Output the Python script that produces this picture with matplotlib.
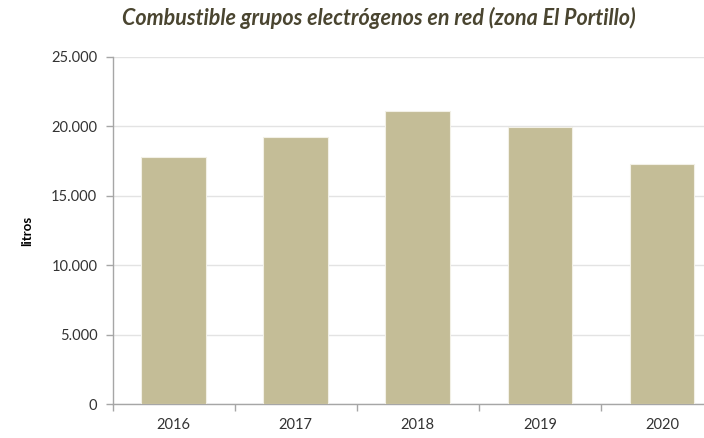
import matplotlib
matplotlib.use("Agg")
import matplotlib.pyplot as plt
from matplotlib.ticker import FuncFormatter, FixedLocator

years = ["2016", "2017", "2018", "2019", "2020"]
litros = [17800, 19200, 21100, 19950, 17250]
y_ticks = [0, 5000, 10000, 15000, 20000, 25000]

title = "Combustible grupos electrógenos en red (zona El Portillo)"
ylabel = "litros"

plt.rcParams["font.family"] = ["Lato", "DejaVu Sans"]

fig = plt.figure(figsize=(7.04, 4.38), dpi=100)
ax = fig.add_axes([0.160, 0.077, 0.867, 0.7936])

x = list(range(len(years)))
ax.bar(x, litros, width=0.53, color="#C4BD97", edgecolor="#F2F0E6", linewidth=0.8, zorder=3)

ax.set_xlim(-0.5, len(years) - 0.5)
ax.set_ylim(0, 25000)
ax.set_yticks(y_ticks)
ax.yaxis.set_major_formatter(FuncFormatter(lambda v, p: f"{int(v):,}".replace(",", ".")))
ax.grid(axis="y", color="#E3E3E3", linewidth=1.0, zorder=0)

ax.set_xticks(x)
ax.set_xticklabels(years)
ax.xaxis.set_minor_locator(FixedLocator([i - 0.5 for i in range(len(years) + 1)]))
ax.tick_params(axis="x", which="major", length=0, pad=10, labelsize=10.5, labelcolor="#333333")
ax.tick_params(axis="x", which="minor", length=5, color="#A6A6A6", width=1)
ax.tick_params(axis="y", length=5, color="#A6A6A6", width=1, pad=6, labelsize=10.5, labelcolor="#333333")

for side in ("top", "right"):
    ax.spines[side].set_visible(False)
for side in ("left", "bottom"):
    ax.spines[side].set_color("#A6A6A6")
    ax.spines[side].set_linewidth(1)

ax.set_ylabel(ylabel, fontsize=9.5, fontweight="bold", color="#000000", labelpad=13)

fig.text(0.538, 0.958, title, ha="center", va="center", fontsize=15.5,
         fontweight="bold", fontstyle="italic", color="#4A4530")

fig.savefig("out.png", dpi=100)
